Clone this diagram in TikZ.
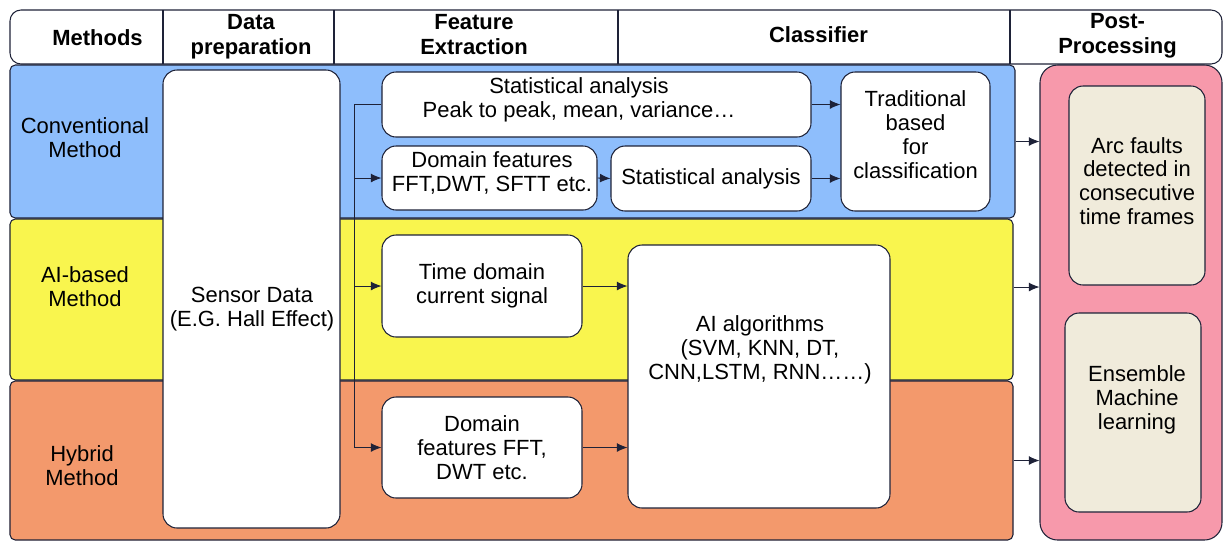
\documentclass[tikz,border=0pt]{standalone}
\usepackage{fontspec}
\setmainfont{Liberation Sans}
\usepackage{xcolor}
\usetikzlibrary{calc}
\usetikzlibrary{positioning}
\usetikzlibrary{arrows.meta}

\definecolor{convblue}{RGB}{142,190,252}
\definecolor{aiyellow}{RGB}{249,245,78}
\definecolor{hyborange}{RGB}{243,153,108}
\definecolor{postpink}{RGB}{247,153,171}
\definecolor{cream}{RGB}{240,235,219}
\definecolor{edge}{RGB}{30,34,56}

\begin{document}
\begin{tikzpicture}[
        font=\fontsize{12.5}{13.6}\selectfont,
        band/.style={draw=edge, line width=0.6pt, rounded corners=3pt},
        blk/.style={draw=edge, fill=white, line width=0.6pt,
            rounded corners=8pt, align=center, inner sep=0pt},
        txt/.style={align=center, inner sep=0pt},
        head/.style={txt, font=\fontsize{12.5}{14.2}\selectfont\bfseries},
        arr/.style={-{Latex[length=6pt,width=5pt]}, line width=0.5pt}
    ]

        \useasboundingbox (0,0) rectangle (24.46,-10.84);

        % Header row of the table
        \draw[edge, line width=0.6pt, rounded corners=0.22cm]
            (0.2,-0.2) rectangle (24.44,-1.28);
        \foreach\x in {3.26, 6.68, 12.36, 20.2}
            \draw[edge, line width=0.6pt] (\x,-0.2) -- (\x,-1.28);

        \node[head] (hmeth) at (1.95,-0.76) {Methods};
        \node[head] (hdata) at (5.02,-0.73) {Data\\preparation};
        \node[head] (hfeat) at (9.48,-0.69) {Feature\\Extraction};
        \node[head] (hclass) at (16.37,-0.7) {Classifier};
        \node[head] (hpost) at (22.35,-0.71) {Post-\\Processing};

        % Coloured bands, one per method
        \node[band, fill=convblue, minimum width=20.1cm, minimum height=3.06cm]
            (conv) at (10.25,-2.83) {};
        \node[band, fill=aiyellow, minimum width=20.06cm, minimum height=3.22cm]
            (aib) at (10.23,-5.99) {};
        \node[band, fill=hyborange, minimum width=20.06cm, minimum height=3.18cm]
            (hyb) at (10.23,-9.21) {};
        \node[draw=edge, line width=0.6pt, fill=postpink, rounded corners=10pt,
            minimum width=3.64cm, minimum height=9.5cm] (post) at (22.62,-6.05) {};

        \node[txt] (convlbl) at (1.7,-2.76) {Conventional\\Method};
        \node[txt] (ailbl) at (1.7,-5.74) {AI-based\\Method};
        \node[txt] (hyblbl) at (1.64,-9.32) {Hybrid\\Method};

        % Data preparation
        \node[blk, minimum width=3.54cm, minimum height=9.16cm]
            (sensor) at (5.03,-5.98) {};
        \node[txt] (sensortxt) at (5.04,-6.18) {Sensor Data\\(E.G. Hall Effect)};

        % Feature extraction
        \node[blk, minimum width=8.58cm, minimum height=1.3cm]
            (stat) at (11.93,-2.09) {};
        \node[txt] (stattxt) at (11.58,-2.0)
            {Statistical analysis\\Peak to peak, mean, variance…};
        \node[blk, minimum width=4.3cm, minimum height=1.28cm]
            (dom) at (9.79,-3.56) {};
        \node[txt] (domtxt) at (9.84,-3.46) {Domain features\\FFT,DWT, SFTT etc.};
        \node[blk, minimum width=4.0cm, minimum height=1.3cm]
            (stat2) at (14.22,-3.57) {Statistical analysis};
        \node[blk, minimum width=4.0cm, minimum height=2.04cm]
            (time) at (9.64,-5.72) {Time domain\\current signal};
        \node[blk, minimum width=4.0cm, minimum height=2.02cm]
            (domfft) at (9.64,-8.95) {Domain\\features FFT,\\DWT etc.};

        % Classifiers
        \node[blk, minimum width=2.98cm, minimum height=2.78cm]
            (trad) at (18.31,-2.83) {};
        \node[txt] (tradtxt) at (18.31,-2.69)
            {Traditional\\based\\for\\classification};
        \node[blk, minimum width=5.24cm, minimum height=5.26cm]
            (ai) at (15.18,-7.53) {};
        \node[txt] (aitxt) at (15.2,-7.0)
            {AI algorithms\\(SVM, KNN, DT,\\CNN,LSTM, RNN……)};

        % Post-processing
        \node[blk, fill=cream, minimum width=2.72cm, minimum height=3.98cm]
            (arc) at (22.74,-3.71) {};
        \node[txt] (arctxt) at (22.74,-3.62)
            {Arc faults\\detected in\\consecutive\\time frames};
        \node[blk, fill=cream, minimum width=2.72cm, minimum height=3.98cm]
            (ens) at (22.66,-8.25) {};
        \node[txt] (enstxt) at (22.74,-8.0) {Ensemble\\Machine\\learning};

        \coordinate (bus) at (7.08,-8.95);

        \begin{scope}[draw=edge]
            \draw[line width=0.5pt] (stat.west) -| (bus);
            \draw[arr] (dom.west -| bus) -- (dom.west);
            \draw[arr] (time.west -| bus) -- (time.west);
            \draw[arr] (domfft.west -| bus) -- (domfft.west);

            \draw[arr] (stat.east) -- (stat.east -| trad.west);
            \draw[arr] (dom.east) -- (stat2.west);
            \draw[arr] (stat2.east) -- (stat2.east -| trad.west);
            \draw[arr] (time.east) -- (time.east -| ai.west);
            \draw[arr] (domfft.east) -- (domfft.east -| ai.west);

            \draw[arr] (conv.east) -- (conv.east -| post.west);
            \draw[arr] ([yshift=0.25cm]aib.east) -- ([yshift=0.25cm]aib.east -| post.west);
            \draw[arr] (hyb.east) -- (hyb.east -| post.west);
        \end{scope}

        \end{tikzpicture}
\end{document}
